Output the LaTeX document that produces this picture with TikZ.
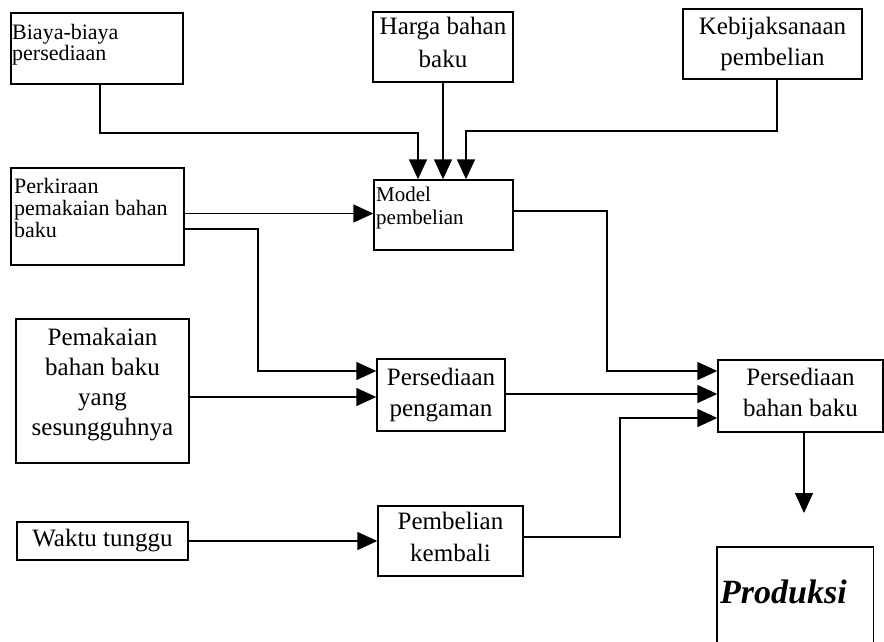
\documentclass[tikz,border=0pt]{standalone}
\usepackage{fontspec}
\setmainfont{Liberation Serif}
\usetikzlibrary{arrows.meta,calc}
\begin{document}
\begin{tikzpicture}[x=1pt,y=-1pt,
  box/.style={draw,line width=1.4pt,inner sep=0pt,align=center},
  bigtxt/.style={font=\fontsize{25}{31}\selectfont},
  smalltxt/.style={font=\fontsize{22}{19}\selectfont,inner sep=0pt,align=left},
  conn/.style={line width=1.4pt},
  arr/.style={conn,-{Triangle[length=20pt,width=18pt]}}]
\fill[white] (0,0) rectangle (884,642);
\useasboundingbox (0,0) rectangle (884,642);
% boxes
\node[box,minimum width=172,minimum height=71] (biaya) at (97,48.5) {};
\node[smalltxt,anchor=north west] (biayat) at (12,24) {Biaya-biaya\\persediaan};
\node[box,bigtxt,font=\fontsize{25}{33}\selectfont,text depth=10pt,minimum width=140,minimum height=70] (harga) at (443,47) {Harga bahan\\baku};
\node[box,bigtxt,minimum width=179,minimum height=70] (kebij) at (772.5,44) {Kebijaksanaan\\pembelian};
\node[box,minimum width=173,minimum height=97] (perk) at (97.5,216.5) {};
\node[smalltxt,font=\fontsize{22}{22}\selectfont,anchor=north west] (perkt) at (14,178) {Perkiraan\\pemakaian bahan\\baku};
\node[box,minimum width=139,minimum height=70] (model) at (443.5,215) {};
\node[smalltxt,font=\fontsize{21}{23}\selectfont,anchor=north west] (modelt) at (376,187) {Model\\pembelian};
\node[box,bigtxt,font=\fontsize{25}{30}\selectfont,text depth=19pt,minimum width=173,minimum height=144] (pemak) at (102.5,391) {Pemakaian\\bahan baku\\yang\\sesungguhnya};
\node[box,bigtxt,minimum width=128,minimum height=72] (peng) at (441,395) {Persediaan\\pengaman};
\node[box,bigtxt,text depth=8pt,minimum width=165,minimum height=72] (pbb) at (800.5,396) {Persediaan\\bahan baku};
\node[box,bigtxt,font=\fontsize{25}{32}\selectfont,text depth=8pt,minimum width=145,minimum height=70] (pemb) at (450.5,541) {Pembelian\\kembali};
\node[box,bigtxt,minimum width=171,minimum height=38] (waktu) at (102.5,541) {Waktu tunggu};
\node[inner sep=0pt,minimum width=156,minimum height=95] (prod) at (795,594.5) {};
\draw[line width=1.4pt] (prod.south west) -- (prod.north west) -- (prod.north east) -- (prod.south east);
\node[anchor=base west,inner sep=0pt,font=\fontsize{34}{34}\selectfont\bfseries\itshape] (prodt) at (720,603) {Produksi};
% junction coordinates
\coordinate (j1) at (418,133);
\coordinate (j3) at (466,131);
\coordinate (j4) at (258,371);
\coordinate (j5) at (607,371);
\coordinate (j6) at (620,418);
\coordinate (j7) at (804,513);
% connectors
\draw[arr] ([xshift=3pt]biaya.south) |- (j1) -- (j1 |- model.north);
\draw[arr] (harga.south) -- (harga.south |- model.north);
\draw[arr] ([xshift=4.5pt]kebij.south) |- (j3) -- (j3 |- model.north);
\draw[arr] ($(perk.east)+(0,-3)$) -- ($(model.west)+(0,-1.5)$);
\draw[arr] ($(perk.east)+(0,12.5)$) -| (j4) -- (j4 -| peng.west);
\draw[arr] ($(pemak.east)+(0,6)$) -- ($(peng.west)+(0,2)$);
\draw[arr] ($(model.east)+(0,-4)$) -| (j5) -- (j5 -| pbb.west);
\draw[arr] ($(peng.east)+(0,-1)$) -- ($(pbb.west)+(0,-2)$);
\draw[arr] ($(pemb.east)+(0,-4)$) -| (j6) -- (j6 -| pbb.west);
\draw[arr] (pbb.south -| j7) -- (j7);
\draw[arr] (waktu.east) -- (waktu.east -| pemb.west);
\end{tikzpicture}
\end{document}
